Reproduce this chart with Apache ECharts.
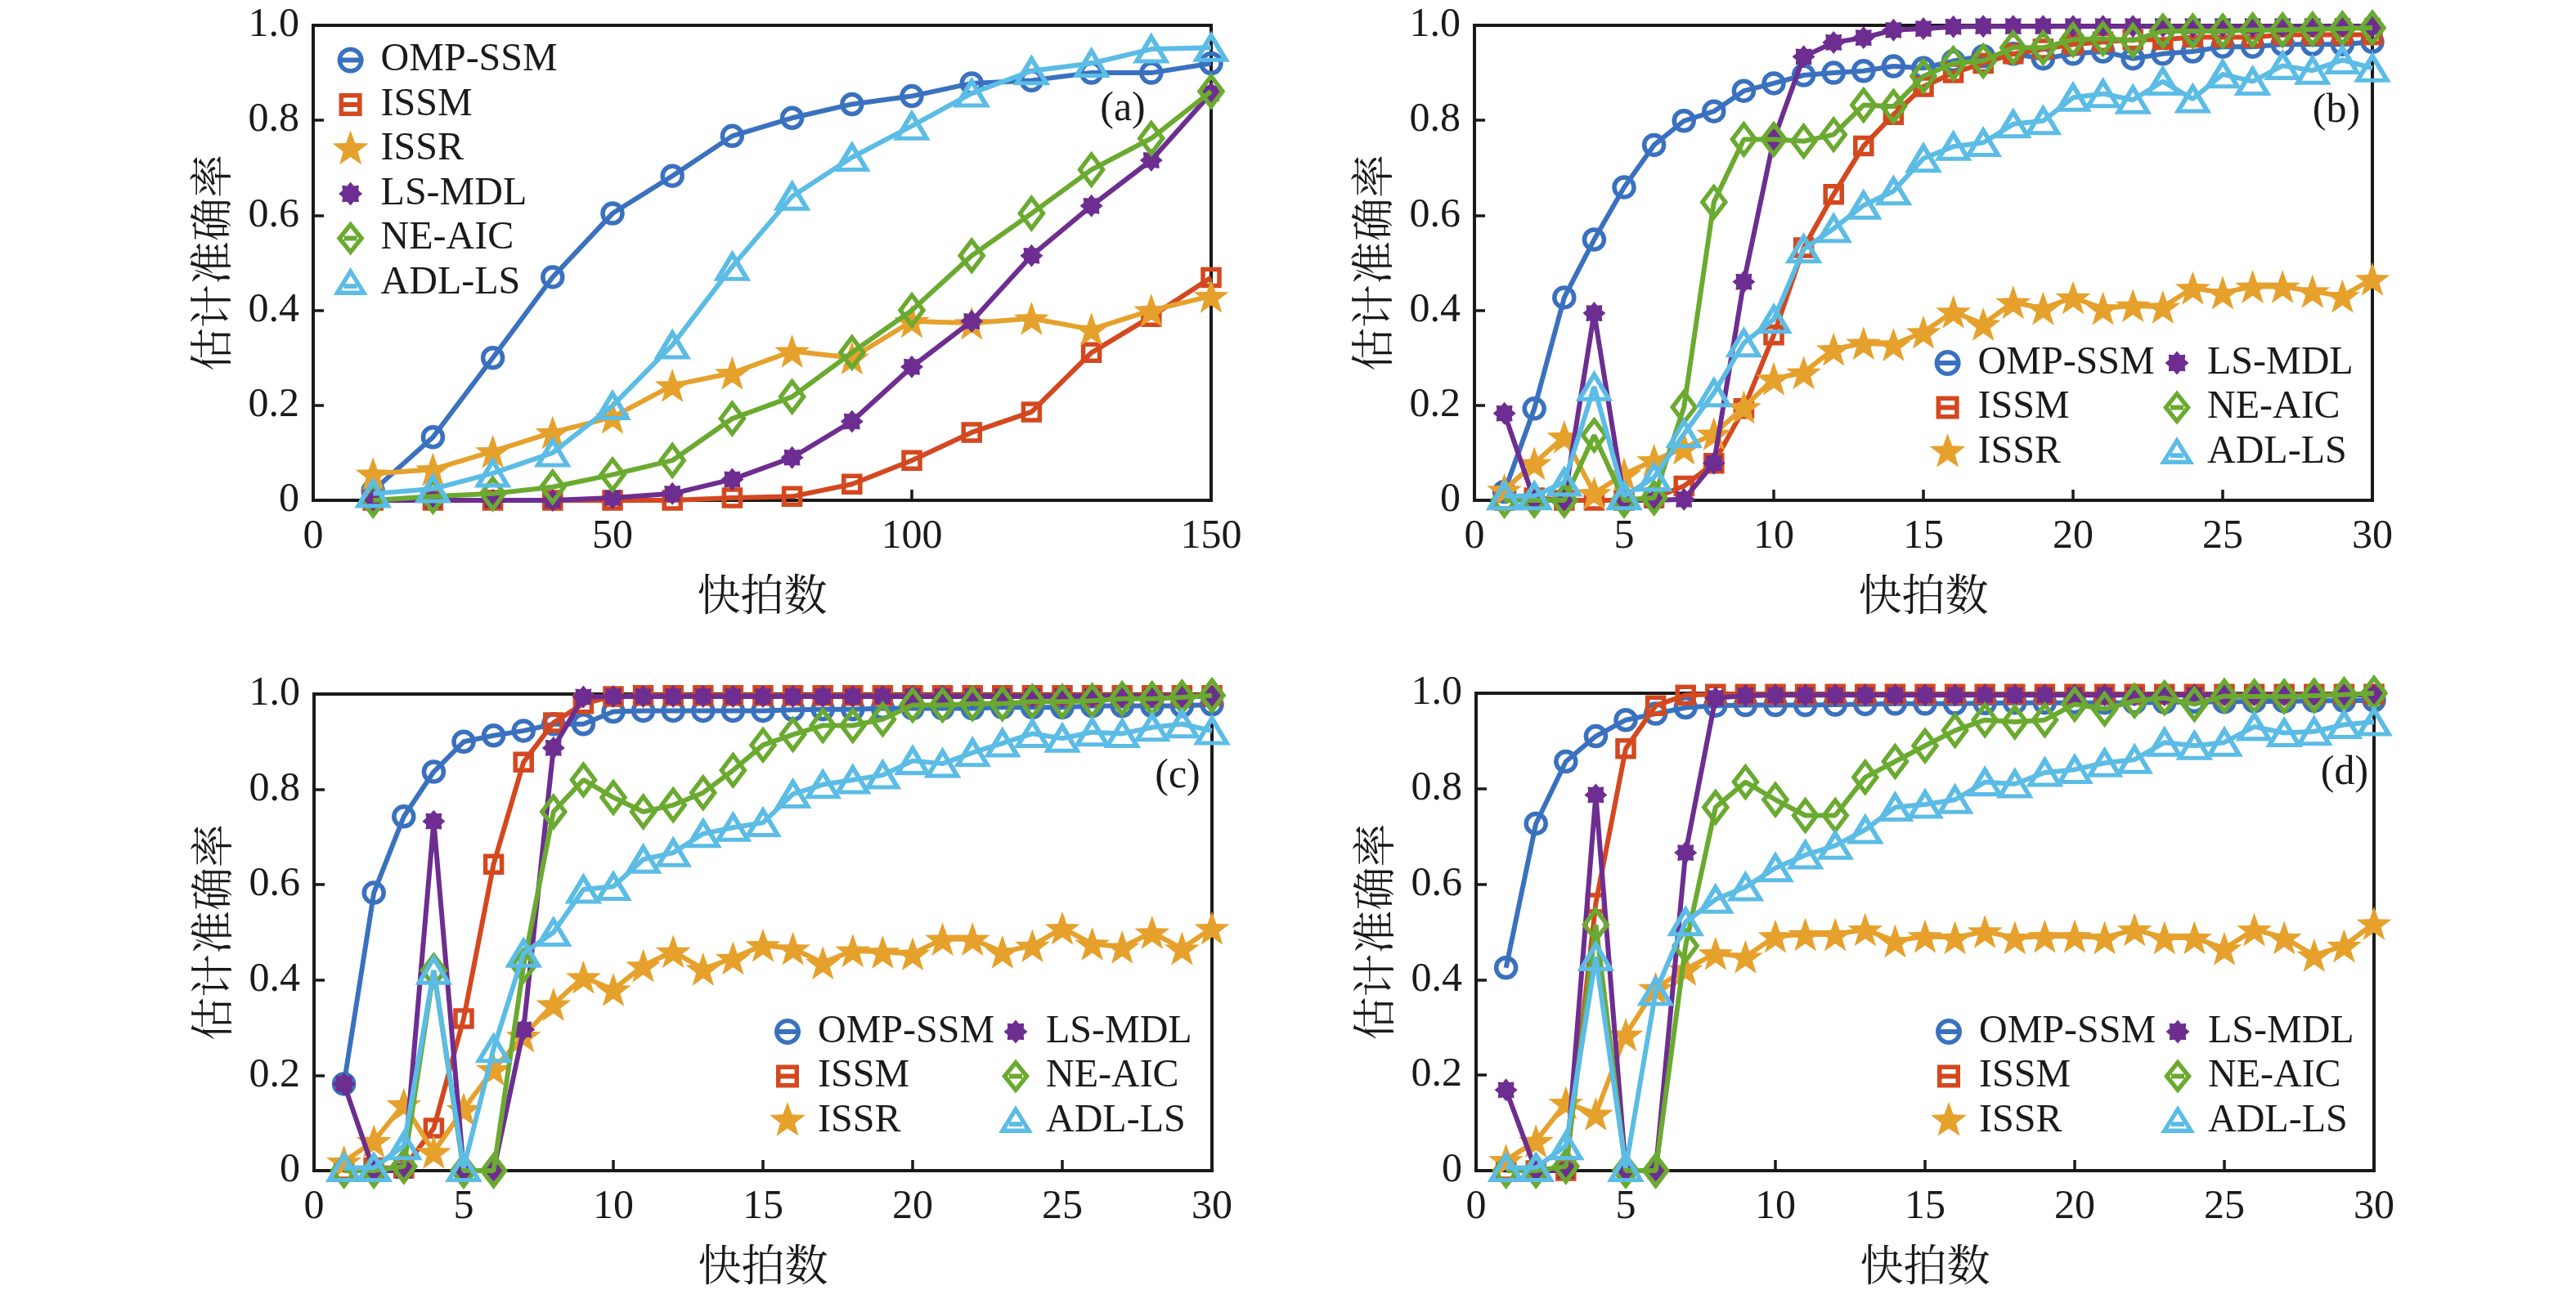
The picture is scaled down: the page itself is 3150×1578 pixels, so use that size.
<!DOCTYPE html>
<html>
<head>
<meta charset="utf-8">
<script src="https://cdn.jsdelivr.net/npm/echarts@6/dist/echarts.min.js"></script>
<style>html,body{margin:0;padding:0;background:#fff}#c{width:3150px;height:1578px}</style>
</head>
<body>
<div id="c"></div>
<script>
// ---------------- DATA ----------------
const METHODS = ['OMP-SSM','ISSM','ISSR','LS-MDL','NE-AIC','ADL-LS'];
const X_A = [10,20,30,40,50,60,70,80,90,100,110,120,130,140,150];
const X_B = [1,2,3,4,5,6,7,8,9,10,11,12,13,14,15,16,17,18,19,20,21,22,23,24,25,26,27,28,29,30];
const Y_TICKS = ['0','0.2','0.4','0.6','0.8','1.0'];
const PANEL_LABELS = ['(a)','(b)','(c)','(d)'];
const X_NAME = '快拍数';
const Y_NAME = '估计准确率';

// panel (a)
const A_OMP  = [0.02,0.133,0.30,0.47,0.604,0.683,0.767,0.805,0.834,0.851,0.878,0.884,0.90,0.90,0.92];
const A_ISSM = [0,0,0,0,0,0,0.005,0.008,0.034,0.084,0.143,0.186,0.311,0.387,0.469];
const A_ISSR = [0.056,0.065,0.103,0.143,0.175,0.242,0.268,0.314,0.30,0.377,0.373,0.383,0.36,0.40,0.43];
const A_LSMDL= [0,0,0,0,0.005,0.014,0.044,0.09,0.166,0.281,0.377,0.515,0.62,0.716,0.857];
const A_NEAIC= [0,0.008,0.014,0.028,0.054,0.084,0.172,0.218,0.311,0.40,0.515,0.604,0.696,0.762,0.861];
const A_ADLLS= [0.014,0.024,0.057,0.10,0.199,0.327,0.492,0.64,0.722,0.788,0.857,0.904,0.92,0.95,0.953];

// panel (b)
const B_OMP  = [0.018,0.193,0.427,0.549,0.659,0.748,0.799,0.819,0.862,0.878,0.895,0.90,0.904,0.914,0.91,0.925,0.935,0.94,0.93,0.94,0.945,0.93,0.94,0.945,0.955,0.955,0.96,0.96,0.96,0.965];
const B_ISSM = [0,0.005,0,0,0,0.005,0.03,0.078,0.193,0.348,0.532,0.644,0.746,0.812,0.871,0.90,0.92,0.94,0.95,0.96,0.965,0.97,0.97,0.975,0.975,0.975,0.98,0.98,0.98,0.98];
const B_ISSR = [0.022,0.078,0.134,0.015,0.055,0.084,0.11,0.14,0.196,0.256,0.269,0.318,0.331,0.328,0.354,0.397,0.371,0.417,0.404,0.427,0.404,0.41,0.407,0.447,0.437,0.45,0.45,0.44,0.43,0.466];
const B_LSMDL= [0.183,0,0,0.394,0,0,0.002,0.078,0.46,0.76,0.934,0.964,0.974,0.99,0.993,0.997,0.998,0.998,0.998,0.998,0.998,0.998,0.998,0.998,0.998,0.998,0.998,0.998,0.998,0.998];
const B_NEAIC= [0,0,0,0.137,0,0.005,0.196,0.628,0.76,0.76,0.756,0.77,0.832,0.829,0.893,0.92,0.925,0.953,0.953,0.97,0.972,0.968,0.988,0.988,0.988,0.99,0.99,0.992,0.993,0.995];
const B_ADLLS= [0.009,0.009,0.038,0.239,0.009,0.048,0.14,0.226,0.331,0.381,0.529,0.572,0.621,0.651,0.72,0.745,0.753,0.792,0.799,0.848,0.856,0.843,0.882,0.845,0.897,0.882,0.915,0.905,0.927,0.91];

// panel (c)
const C_OMP  = [0.182,0.583,0.743,0.837,0.90,0.913,0.923,0.937,0.937,0.963,0.965,0.965,0.965,0.965,0.965,0.967,0.968,0.968,0.97,0.97,0.97,0.97,0.972,0.972,0.972,0.975,0.975,0.975,0.975,0.978];
const C_ISSM = [0,0.006,0.005,0.089,0.319,0.643,0.857,0.94,0.98,0.995,0.997,0.997,0.997,0.997,0.997,0.997,0.997,0.997,0.997,0.997,0.997,0.997,0.997,0.997,0.997,0.997,0.997,0.997,0.997,0.997];
const C_ISSR = [0.019,0.062,0.139,0.039,0.129,0.213,0.283,0.349,0.406,0.38,0.43,0.46,0.423,0.446,0.473,0.466,0.436,0.462,0.459,0.455,0.486,0.486,0.459,0.472,0.509,0.476,0.469,0.5,0.466,0.509];
const C_LSMDL= [0.182,0,0,0.733,0,0,0.296,0.887,0.994,0.995,0.995,0.995,0.995,0.995,0.995,0.995,0.995,0.995,0.995,0.995,0.995,0.995,0.995,0.995,0.995,0.995,0.995,0.995,0.995,0.995];
const C_NEAIC= [0,0,0.009,0.42,0,0,0.43,0.753,0.82,0.783,0.753,0.767,0.793,0.84,0.893,0.915,0.934,0.934,0.947,0.977,0.977,0.98,0.98,0.984,0.984,0.986,0.99,0.99,0.993,0.997];
const C_ADLLS= [0.006,0.006,0.052,0.42,0.006,0.256,0.456,0.5,0.59,0.596,0.653,0.667,0.707,0.72,0.73,0.79,0.81,0.82,0.83,0.86,0.854,0.877,0.897,0.917,0.907,0.92,0.917,0.93,0.937,0.923];

// panel (d)
const D_OMP  = [0.425,0.727,0.857,0.91,0.944,0.957,0.97,0.974,0.975,0.975,0.975,0.976,0.977,0.978,0.978,0.978,0.979,0.98,0.98,0.98,0.98,0.98,0.981,0.982,0.982,0.983,0.983,0.984,0.984,0.985];
const D_ISSM = [0,0,0,0.56,0.884,0.974,0.996,0.998,0.998,0.998,0.998,0.998,0.998,0.998,0.998,0.998,0.998,0.998,0.998,0.998,0.998,0.998,0.998,0.998,0.998,0.998,0.998,0.998,0.998,0.998];
const D_ISSR = [0.022,0.062,0.142,0.119,0.285,0.382,0.422,0.455,0.448,0.491,0.495,0.495,0.505,0.481,0.491,0.488,0.501,0.488,0.491,0.491,0.488,0.505,0.488,0.488,0.465,0.505,0.488,0.451,0.471,0.518];
const D_LSMDL= [0.169,0,0,0.787,0,0,0.666,0.99,0.995,0.996,0.996,0.996,0.996,0.996,0.996,0.996,0.996,0.996,0.996,0.996,0.996,0.996,0.996,0.996,0.996,0.996,0.996,0.996,0.996,0.996];
const D_NEAIC= [0,0,0.009,0.515,0,0,0.471,0.761,0.814,0.777,0.744,0.744,0.824,0.857,0.89,0.922,0.944,0.94,0.944,0.977,0.967,0.984,0.99,0.977,0.994,0.993,0.993,0.995,0.997,1.0];
const D_ADLLS= [0.006,0.006,0.052,0.448,0.006,0.375,0.521,0.568,0.594,0.634,0.661,0.681,0.714,0.761,0.767,0.777,0.814,0.81,0.834,0.84,0.854,0.861,0.897,0.89,0.897,0.93,0.917,0.92,0.934,0.94];

// ---------------- STYLE / LAYOUT ----------------
const COLORS = ['#3A71BF','#D4481F','#E6A12C','#6E2D90','#6AAA30','#5BBCE5'];
const INK = '#1a1a1a';
const SERIF = '"Liberation Serif","Times New Roman",serif';
const CJK = '"Noto Serif CJK SC","Noto Sans CJK SC",sans-serif';

const PANELS = [
  {x: X_A, xmax: 150, xint: 50, grid: {left: 383, top: 31, width: 1098, height: 581},
   vals: [A_OMP,A_ISSM,A_ISSR,A_LSMDL,A_NEAIC,A_ADLLS], lab: [1373, 134]},
  {x: X_B, xmax: 30, xint: 5, grid: {left: 1803, top: 31, width: 1098, height: 581},
   vals: [B_OMP,B_ISSM,B_ISSR,B_LSMDL,B_NEAIC,B_ADLLS], lab: [2857, 136]},
  {x: X_B, xmax: 30, xint: 5, grid: {left: 384, top: 849, width: 1098, height: 583},
   vals: [C_OMP,C_ISSM,C_ISSR,C_LSMDL,C_NEAIC,C_ADLLS], lab: [1440, 950]},
  {x: X_B, xmax: 30, xint: 5, grid: {left: 1805, top: 848, width: 1098, height: 584},
   vals: [D_OMP,D_ISSM,D_ISSR,D_LSMDL,D_NEAIC,D_ADLLS], lab: [2867, 946]}
];

function poly(pts) {
  return 'M' + pts.map(p => p[0].toFixed(2) + ' ' + p[1].toFixed(2)).join(' L') + ' Z ';
}
function circlePts(r, n) {
  const a = [];
  for (let i = 0; i < n; i++) { const t = 2 * Math.PI * i / n; a.push([r * Math.cos(t), r * Math.sin(t)]); }
  return a;
}
function starPts(n, R, r) {
  const a = [];
  for (let i = 0; i < 2 * n; i++) {
    const t = -Math.PI / 2 + i * Math.PI / n;
    const rr = i % 2 === 0 ? R : r;
    a.push([rr * Math.cos(t), rr * Math.sin(t)]);
  }
  return a;
}
function rectPts(hw, hh) { return [[-hw,-hh],[hw,-hh],[hw,hh],[-hw,hh]]; }
const ANCHOR = 'M-24 -24 L-23.95 -24 L-24 -23.95 Z M24 24 L23.95 24 L24 23.95 Z ';

const STAR_SYM = 'path://' + poly(starPts(5, 100, 40));
const GEAR_SYM = 'path://' + poly(starPts(8, 100, 72));

const ICONS = [
  'path://' + ANCHOR + poly(circlePts(16, 48)) + poly(circlePts(10.5, 48).reverse()) + poly(rectPts(10.5, 3)),
  'path://' + ANCHOR + poly(rectPts(14, 14)) + poly(rectPts(8.5, 8.5).reverse()) + poly(rectPts(8.5, 3)),
  'path://' + ANCHOR + poly(starPts(5, 23, 9.5)),
  'path://' + ANCHOR + poly(starPts(8, 14.5, 10.5)),
  'path://' + ANCHOR + poly([[0,-21],[17,0],[0,21],[-17,0]]) + poly([[0,-12.5],[10,0],[0,12.5],[-10,0]].reverse()) + poly(rectPts(8, 3)),
  'path://' + ANCHOR + poly([[0,-19],[21,15],[-21,15]]) + poly([[0,-9],[11.5,9.5],[-11.5,9.5]].reverse()) + poly([[-8,1.2],[8,1.2],[8,7],[-8,7]])
];

const SYMBOLS = [
  {symbol: 'circle', size: 24, hollow: true},
  {symbol: 'rect', size: 20, hollow: true},
  {symbol: STAR_SYM, size: [43, 41], hollow: false},
  {symbol: GEAR_SYM, size: 28, hollow: false},
  {symbol: 'diamond', size: [28, 37], hollow: true},
  {symbol: 'triangle', size: [36, 30], hollow: true}
];

const grids = [], xAxes = [], yAxes = [], series = [], graphics = [];
PANELS.forEach((p, pi) => {
  grids.push(Object.assign({show: true, borderColor: INK, borderWidth: 4, containLabel: false}, p.grid));
  const axisCommon = {
    axisLine: {show: true, lineStyle: {color: INK, width: 4}},
    axisTick: {show: true, inside: true, length: 13, lineStyle: {color: INK, width: 3.5}},
    splitLine: {show: false},
    nameLocation: 'middle'
  };
  xAxes.push(Object.assign({}, axisCommon, {
    gridIndex: pi, type: 'value', min: 0, max: p.xmax, interval: p.xint,
    axisLabel: {fontSize: 50, fontFamily: SERIF, color: INK, margin: 20},
    name: X_NAME, nameGap: 88,
    nameTextStyle: {fontSize: 53, fontFamily: CJK, color: INK}
  }));
  yAxes.push(Object.assign({}, axisCommon, {
    gridIndex: pi, type: 'value', min: 0, max: 1, interval: 0.2,
    axisLabel: {fontSize: 50, fontFamily: SERIF, color: INK, margin: 17,
      formatter: v => Y_TICKS[Math.round(v / 0.2)]},
    name: Y_NAME, nameGap: 99,
    nameTextStyle: {fontSize: 53, fontFamily: CJK, color: INK}
  }));
  METHODS.forEach((m, mi) => {
    const s = SYMBOLS[mi];
    series.push({
      type: 'line', name: m, xAxisIndex: pi, yAxisIndex: pi,
      data: p.x.map((xv, i) => [xv, p.vals[mi][i]]),
      symbol: s.symbol, symbolSize: s.size, showAllSymbol: true,
      itemStyle: s.hollow
        ? {color: 'rgba(255,255,255,0)', borderColor: COLORS[mi], borderWidth: 5.5}
        : {color: COLORS[mi], borderWidth: 0},
      lineStyle: {color: COLORS[mi], width: 6},
      clip: false, z: 2 + mi,
      emphasis: {disabled: true}
    });
  });
  graphics.push({
    type: 'text', x: p.lab[0], y: p.lab[1],
    style: {text: PANEL_LABELS[pi], fontSize: 50, fontFamily: SERIF, fill: INK,
      textAlign: 'center', textVerticalAlign: 'middle', align: 'center', verticalAlign: 'middle'}
  });
});

function legendData(idx) {
  return idx.map(i => ({name: METHODS[i], icon: ICONS[i],
    itemStyle: {color: COLORS[i], borderWidth: 0, borderColor: COLORS[i]}}));
}
function makeLegend(idx, left, top) {
  return {
    show: true, orient: 'vertical', left: left, top: top, padding: 0,
    itemWidth: 64, itemHeight: 48, itemGap: 6.5, selectedMode: false,
    textStyle: {fontSize: 48, fontFamily: SERIF, color: INK, lineHeight: 48},
    data: legendData(idx)
  };
}
const legends = [
  makeLegend([0,1,2,3,4,5], 404.6, 73.6 - 24),
  makeLegend([0,1,2], 2357.6, 444 - 24), makeLegend([3,4,5], 2638, 444 - 24),
  makeLegend([0,1,2], 939, 1262 - 24), makeLegend([3,4,5], 1218, 1262 - 24),
  makeLegend([0,1,2], 2359, 1262 - 24), makeLegend([3,4,5], 2639, 1262 - 24)
];

const chart = echarts.init(document.getElementById('c'), null, {renderer: 'canvas'});
chart.setOption({
  backgroundColor: '#ffffff',
  animation: false,
  grid: grids, xAxis: xAxes, yAxis: yAxes,
  legend: legends,
  series: series,
  graphic: graphics
});
</script>
</body>
</html>
